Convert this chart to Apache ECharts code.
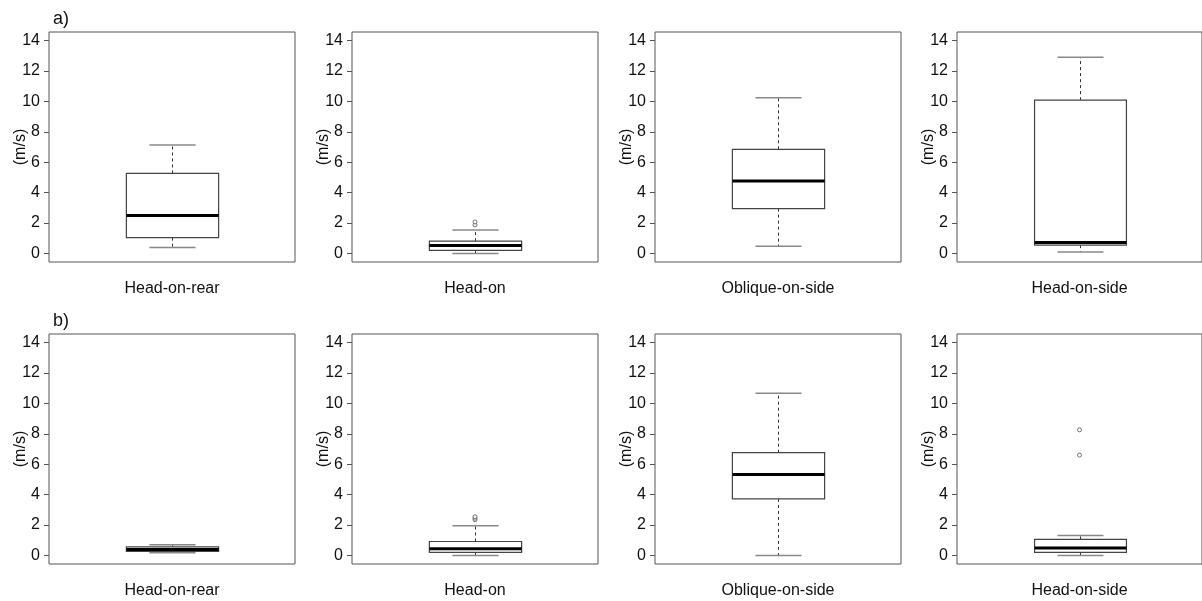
<!DOCTYPE html>
<html>
<head>
<meta charset="utf-8">
<script src="https://cdn.jsdelivr.net/npm/echarts@6/dist/echarts.min.js"></script>
<style>
html,body{margin:0;padding:0;background:#fff;}
#chart{width:1202px;height:601px;}
</style>
</head>
<body>
<div id="chart"></div>
<script>
// ---- data ----
const categories = ['Head-on-rear', 'Head-on', 'Oblique-on-side', 'Head-on-side'];
const panelLabels = ['a)', 'b)'];
const yTicks = [0, 2, 4, 6, 8, 10, 12, 14];
const yRange = [-0.56, 14.56];
// [lower whisker, Q1, median, Q3, upper whisker]
const statsA = [
  [0.40, 1.04, 2.49, 5.26, 7.13],
  [0.00, 0.20, 0.53, 0.81, 1.54],
  [0.48, 2.95, 4.76, 6.85, 10.24],
  [0.09, 0.55, 0.73, 10.08, 12.90]
];
const outliersA = [[], [1.88, 2.07], [], []];
const statsB = [
  [0.18, 0.27, 0.40, 0.57, 0.70],
  [0.00, 0.20, 0.44, 0.92, 1.96],
  [0.00, 3.72, 5.33, 6.76, 10.67],
  [0.00, 0.20, 0.50, 1.06, 1.32]
];
const outliersB = [[], [2.35, 2.45, 2.55], [], [6.60, 8.26]];

// ---- layout ----
const FONT = 'Liberation Sans, Arial, sans-serif';
const lefts = [49, 352, 655, 957];
const tops = [32, 334];
const W = 246, H = 230;

function renderBox(params, api) {
  const x = api.value(0);
  const lo = api.coord([x, api.value(1)]);
  const q1 = api.coord([x, api.value(2)]);
  const md = api.coord([x, api.value(3)]);
  const q3 = api.coord([x, api.value(4)]);
  const hi = api.coord([x, api.value(5)]);
  const band = api.size([1, 0])[0];
  const bw = band * 0.375;
  const cw = bw / 2;
  const cx = Math.round(md[0]) + 0.5;
  const dashed = {stroke: '#333', lineWidth: 1, lineDash: [3, 3]};
  const cap = {stroke: '#888', lineWidth: 1.5};
  return {
    type: 'group',
    children: [
      {type: 'line', shape: {x1: cx, y1: q3[1], x2: cx, y2: hi[1]}, style: dashed},
      {type: 'line', shape: {x1: cx, y1: q1[1], x2: cx, y2: lo[1]}, style: dashed},
      {type: 'line', shape: {x1: cx - cw / 2, y1: hi[1], x2: cx + cw / 2, y2: hi[1]}, style: cap},
      {type: 'line', shape: {x1: cx - cw / 2, y1: lo[1], x2: cx + cw / 2, y2: lo[1]}, style: cap},
      {type: 'rect', shape: {x: cx - bw / 2, y: q3[1], width: bw, height: q1[1] - q3[1]},
        style: {fill: '#fff', stroke: '#444', lineWidth: 1.2}},
      {type: 'line', shape: {x1: cx - bw / 2, y1: md[1], x2: cx + bw / 2, y2: md[1]},
        style: {stroke: '#000', lineWidth: 3}}
    ]
  };
}

const grids = [], xAxes = [], yAxes = [], series = [];
const rows = [[statsA, outliersA], [statsB, outliersB]];
rows.forEach((row, r) => {
  const [stats, outs] = row;
  categories.forEach((cat, c) => {
    const idx = grids.length;
    grids.push({left: lefts[c], top: tops[r], width: W, height: H,
      show: true, borderColor: '#555', borderWidth: 1, backgroundColor: 'transparent'});
    xAxes.push({type: 'category', gridIndex: idx, data: [cat],
      axisLine: {show: false}, axisTick: {show: false}, splitLine: {show: false},
      axisLabel: {margin: 19, fontSize: 16, color: '#111', fontFamily: FONT}});
    yAxes.push({type: 'value', gridIndex: idx, min: yRange[0], max: yRange[1],
      name: '(m/s)', nameLocation: 'middle', nameGap: 20, nameRotate: 90,
      nameMoveOverlap: false,
      nameTextStyle: {fontSize: 16, color: '#111', fontFamily: FONT},
      axisLine: {show: false}, splitLine: {show: false},
      axisTick: {show: true, length: 5, customValues: yTicks, lineStyle: {color: '#555'}},
      axisLabel: {margin: 9, fontSize: 16, color: '#111', fontFamily: FONT, customValues: yTicks}});
    series.push({type: 'custom', xAxisIndex: idx, yAxisIndex: idx, z: 2,
      renderItem: renderBox, data: [[0].concat(stats[c])], silent: true,
      encode: {x: 0, y: [1, 2, 3, 4, 5]}});
    series.push({type: 'scatter', xAxisIndex: idx, yAxisIndex: idx, silent: true, z: 5,
      symbol: 'circle', symbolSize: 4,
      itemStyle: {color: '#fff', borderColor: '#555', borderWidth: 1},
      data: outs[c].map(v => [0, v])});
  });
});

const chart = echarts.init(document.getElementById('chart'), null, {renderer: 'canvas'});
chart.setOption({
  animation: false,
  backgroundColor: '#fff',
  title: panelLabels.map((t, i) => ({text: t, left: 48, top: tops[i] - 27,
    textStyle: {fontSize: 18, fontWeight: 'normal', color: '#111', fontFamily: FONT}})),
  grid: grids,
  xAxis: xAxes,
  yAxis: yAxes,
  series: series
});
</script>
</body>
</html>
